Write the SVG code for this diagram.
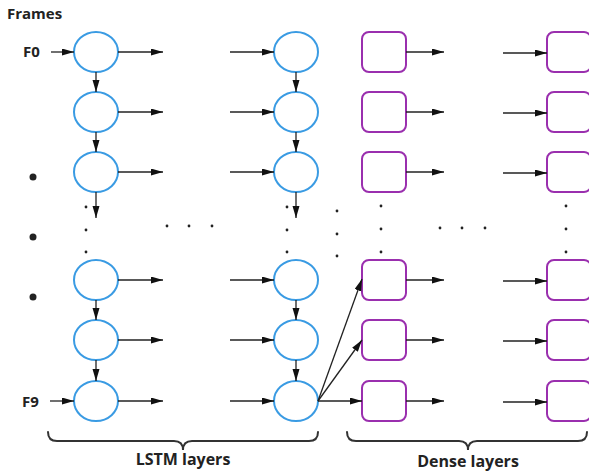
<svg xmlns="http://www.w3.org/2000/svg" width="589" height="474" viewBox="0 0 589 474">
  <style>
    .lstm { fill: #fff; stroke: #3a9be3; stroke-width: 2; }
    .dense { fill: #fff; stroke: #9a2fae; stroke-width: 2; }
    .arr { stroke: #222; stroke-width: 1.3; fill: none; marker-end: url(#head); }
    .brace { stroke: #333; stroke-width: 2; fill: none; stroke-linecap: round; }
    .lbl { font-family: "Open Sans", "Noto Sans", sans-serif; font-weight: bold; fill: #222; }
    .dot { fill: #222; }
  </style>
  <defs>
    <marker id="head" markerUnits="userSpaceOnUse" markerWidth="13" markerHeight="8" refX="12" refY="3.5" orient="auto">
      <path d="M0,0 L12,3.5 L0,7 z" fill="#111"/>
    </marker>
  </defs>

  <text class="lbl" x="7" y="19" font-size="15">Frames</text>
  <text class="lbl" x="23" y="57" font-size="15">F0</text>
  <text class="lbl" x="22" y="407" font-size="15">F9</text>

  <!-- frame bullets -->
  <circle class="dot" cx="33" cy="177" r="3.5"/>
  <circle class="dot" cx="33" cy="237" r="3.5"/>
  <circle class="dot" cx="33" cy="297" r="3.5"/>

  <!-- LSTM column 1 -->
  <g id="lstm-a0"><ellipse class="lstm" cx="96" cy="52" rx="22" ry="20"/></g>
  <g id="lstm-a1"><ellipse class="lstm" cx="96" cy="112" rx="22" ry="20"/></g>
  <g id="lstm-a2"><ellipse class="lstm" cx="96" cy="172" rx="22" ry="20"/></g>
  <g id="lstm-a7"><ellipse class="lstm" cx="96" cy="280" rx="22" ry="20"/></g>
  <g id="lstm-a8"><ellipse class="lstm" cx="96" cy="340" rx="22" ry="20"/></g>
  <g id="lstm-a9"><ellipse class="lstm" cx="96" cy="401" rx="22" ry="20"/></g>

  <!-- LSTM column 2 -->
  <g id="lstm-b0"><ellipse class="lstm" cx="296" cy="52" rx="22" ry="20"/></g>
  <g id="lstm-b1"><ellipse class="lstm" cx="296" cy="112" rx="22" ry="20"/></g>
  <g id="lstm-b2"><ellipse class="lstm" cx="296" cy="172" rx="22" ry="20"/></g>
  <g id="lstm-b7"><ellipse class="lstm" cx="296" cy="280" rx="22" ry="20"/></g>
  <g id="lstm-b8"><ellipse class="lstm" cx="296" cy="340" rx="22" ry="20"/></g>
  <g id="lstm-b9"><ellipse class="lstm" cx="296" cy="401" rx="22" ry="20"/></g>

  <!-- Dense column 1 -->
  <g id="dense-a0"><rect class="dense" x="362" y="32" width="44" height="40" rx="7"/></g>
  <g id="dense-a1"><rect class="dense" x="362" y="92" width="44" height="40" rx="7"/></g>
  <g id="dense-a2"><rect class="dense" x="362" y="152" width="44" height="40" rx="7"/></g>
  <g id="dense-a7"><rect class="dense" x="362" y="260" width="44" height="40" rx="7"/></g>
  <g id="dense-a8"><rect class="dense" x="362" y="320" width="44" height="40" rx="7"/></g>
  <g id="dense-a9"><rect class="dense" x="362" y="381" width="44" height="40" rx="7"/></g>

  <!-- Dense column 2 -->
  <g id="dense-b0"><rect class="dense" x="547" y="32" width="44" height="40" rx="7"/></g>
  <g id="dense-b1"><rect class="dense" x="547" y="92" width="44" height="40" rx="7"/></g>
  <g id="dense-b2"><rect class="dense" x="547" y="152" width="44" height="40" rx="7"/></g>
  <g id="dense-b7"><rect class="dense" x="547" y="260" width="44" height="40" rx="7"/></g>
  <g id="dense-b8"><rect class="dense" x="547" y="320" width="44" height="40" rx="7"/></g>
  <g id="dense-b9"><rect class="dense" x="547" y="381" width="44" height="40" rx="7"/></g>

  <!-- ellipsis dots -->
  <g id="ellipsis">
    <circle class="dot" cx="86" cy="207" r="1.4"/>
    <circle class="dot" cx="86" cy="230" r="1.4"/>
    <circle class="dot" cx="86" cy="252" r="1.4"/>
    <circle class="dot" cx="287" cy="207" r="1.4"/>
    <circle class="dot" cx="287" cy="230" r="1.4"/>
    <circle class="dot" cx="287" cy="252" r="1.4"/>
    <circle class="dot" cx="337" cy="211" r="1.4"/>
    <circle class="dot" cx="337" cy="234" r="1.4"/>
    <circle class="dot" cx="337" cy="256" r="1.4"/>
    <circle class="dot" cx="381" cy="206" r="1.4"/>
    <circle class="dot" cx="381" cy="229" r="1.4"/>
    <circle class="dot" cx="381" cy="252" r="1.4"/>
    <circle class="dot" cx="566" cy="206" r="1.4"/>
    <circle class="dot" cx="566" cy="229" r="1.4"/>
    <circle class="dot" cx="566" cy="252" r="1.4"/>
    <circle class="dot" cx="167" cy="226" r="1.4"/>
    <circle class="dot" cx="189" cy="226" r="1.4"/>
    <circle class="dot" cx="212" cy="226" r="1.4"/>
    <circle class="dot" cx="440" cy="228" r="1.4"/>
    <circle class="dot" cx="462" cy="228" r="1.4"/>
    <circle class="dot" cx="485" cy="228" r="1.4"/>
  </g>

  <g id="connectors">
    <!-- frame inputs -->
    <line class="arr" x1="51" y1="52" x2="74" y2="52"/>
    <line class="arr" x1="50" y1="401" x2="74" y2="401"/>

    <!-- LSTM column 1 outputs -->
    <line class="arr" x1="118" y1="52" x2="163" y2="52"/>
    <line class="arr" x1="118" y1="112" x2="163" y2="112"/>
    <line class="arr" x1="118" y1="172" x2="163" y2="172"/>
    <line class="arr" x1="118" y1="280" x2="163" y2="280"/>
    <line class="arr" x1="118" y1="340" x2="163" y2="340"/>
    <line class="arr" x1="118" y1="401" x2="163" y2="401"/>

    <!-- LSTM column 2 inputs -->
    <line class="arr" x1="230" y1="52" x2="274" y2="52"/>
    <line class="arr" x1="230" y1="112" x2="274" y2="112"/>
    <line class="arr" x1="230" y1="172" x2="274" y2="172"/>
    <line class="arr" x1="230" y1="280" x2="274" y2="280"/>
    <line class="arr" x1="230" y1="340" x2="274" y2="340"/>
    <line class="arr" x1="230" y1="401" x2="274" y2="401"/>

    <!-- recurrent links -->
    <line class="arr" x1="96" y1="72" x2="96" y2="92"/>
    <line class="arr" x1="96" y1="132" x2="96" y2="152"/>
    <line class="arr" x1="96" y1="192" x2="96" y2="218"/>
    <line class="arr" x1="96" y1="300" x2="96" y2="320"/>
    <line class="arr" x1="96" y1="360" x2="96" y2="381"/>
    <line class="arr" x1="296" y1="72" x2="296" y2="92"/>
    <line class="arr" x1="296" y1="132" x2="296" y2="152"/>
    <line class="arr" x1="296" y1="192" x2="296" y2="218"/>
    <line class="arr" x1="296" y1="300" x2="296" y2="320"/>
    <line class="arr" x1="296" y1="360" x2="296" y2="381"/>

    <!-- last LSTM state fans out to dense layers -->
    <line class="arr" x1="318" y1="401" x2="362" y2="279"/>
    <line class="arr" x1="318" y1="401" x2="362" y2="340"/>
    <line class="arr" x1="318" y1="401" x2="362" y2="401"/>

    <!-- dense column 1 outputs -->
    <line class="arr" x1="406" y1="52" x2="444" y2="52"/>
    <line class="arr" x1="406" y1="112" x2="444" y2="112"/>
    <line class="arr" x1="406" y1="172" x2="444" y2="172"/>
    <line class="arr" x1="406" y1="280" x2="444" y2="280"/>
    <line class="arr" x1="406" y1="340" x2="444" y2="340"/>
    <line class="arr" x1="406" y1="401" x2="444" y2="401"/>

    <!-- dense column 2 inputs -->
    <line class="arr" x1="503" y1="53" x2="547" y2="53"/>
    <line class="arr" x1="503" y1="113" x2="547" y2="113"/>
    <line class="arr" x1="503" y1="173" x2="547" y2="173"/>
    <line class="arr" x1="503" y1="281" x2="547" y2="281"/>
    <line class="arr" x1="503" y1="341" x2="547" y2="341"/>
    <line class="arr" x1="503" y1="402" x2="547" y2="402"/>
  </g>

  <!-- group braces -->
  <path class="brace" d="M48,432 Q48,441 57,441 L174,441 Q183,441 183,450 Q183,441 192,441 L309,441 Q318,441 318,432"/>
  <path class="brace" d="M347,432 Q347,441 356,441 L459,441 Q468,441 468,450 Q468,441 477,441 L578,441 Q587,441 587,432"/>
  <text class="lbl" x="183" y="465" font-size="16" text-anchor="middle">LSTM layers</text>
  <text class="lbl" x="468" y="467" font-size="16" text-anchor="middle">Dense layers</text>
</svg>
